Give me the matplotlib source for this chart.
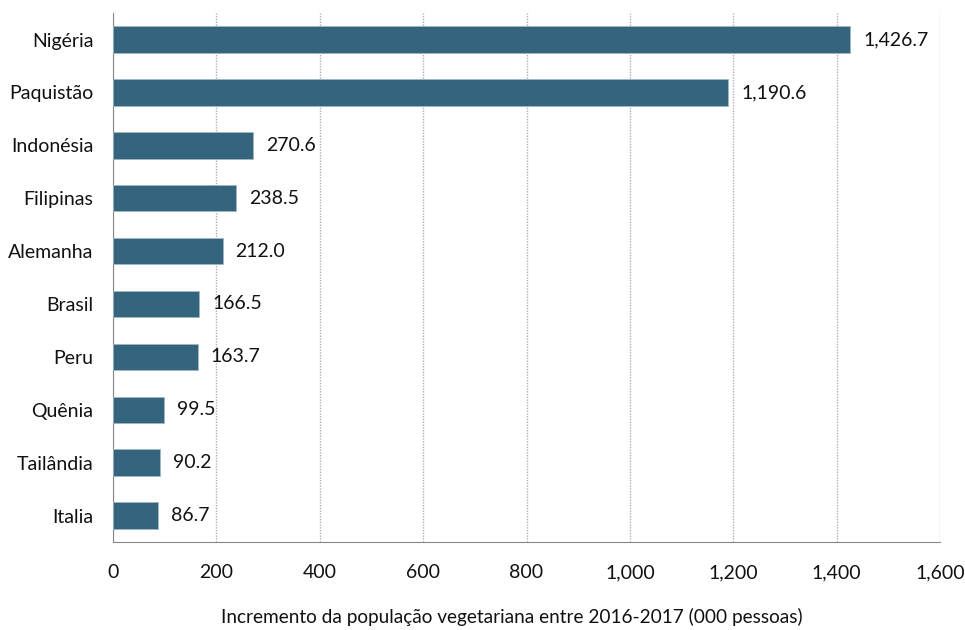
import matplotlib.pyplot as plt
from matplotlib.ticker import FuncFormatter

paises = ['Nigéria', 'Paquistão', 'Indonésia', 'Filipinas', 'Alemanha',
          'Brasil', 'Peru', 'Quênia', 'Tailândia', 'Italia']
incremento = [1426.7, 1190.6, 270.6, 238.5, 212.0, 166.5, 163.7, 99.5, 90.2, 86.7]

plt.rcParams['font.family'] = ['Lato', 'DejaVu Sans']

fig = plt.figure(figsize=(9.65, 6.3), dpi=100)
ax = fig.add_axes([0.1171, 0.1397, 0.857, 0.8395])

pos = list(range(len(paises)))
ax.barh(pos, incremento, height=0.5, color='#35657d', edgecolor='#9fb6c4', linewidth=0.6, zorder=3)

# value labels to the right of each bar
for y, v in zip(pos, incremento):
    ax.text(v + 25, y, f'{v:,.1f}', va='center', ha='left', fontsize=14, color='#111111')

ax.set_ylim(len(paises) - 0.5, -0.5)
ax.set_yticks(pos)
ax.set_yticklabels(paises)
ax.set_xlim(0, 1600)
ax.set_xticks(range(0, 1601, 200))
ax.xaxis.set_major_formatter(FuncFormatter(lambda x, p: f'{x:,.0f}'))

ax.grid(axis='x', color='#b0b0b0', linestyle=(0, (1, 1)), linewidth=1, zorder=0)
for s in ['top', 'right']:
    ax.spines[s].set_visible(False)
ax.spines['left'].set_color('#888888')
ax.spines['bottom'].set_color('#888888')
ax.tick_params(length=0, labelsize=14, colors='#111111')
ax.tick_params(axis='x', pad=16)
ax.tick_params(axis='y', pad=14)

ax.set_xlabel('Incremento da população vegetariana entre 2016-2017 (000 pessoas)',
              fontsize=13.7, color='#111111')
ax.xaxis.set_label_coords(0.4825, -0.124)

fig.savefig('out.png', dpi=100)
